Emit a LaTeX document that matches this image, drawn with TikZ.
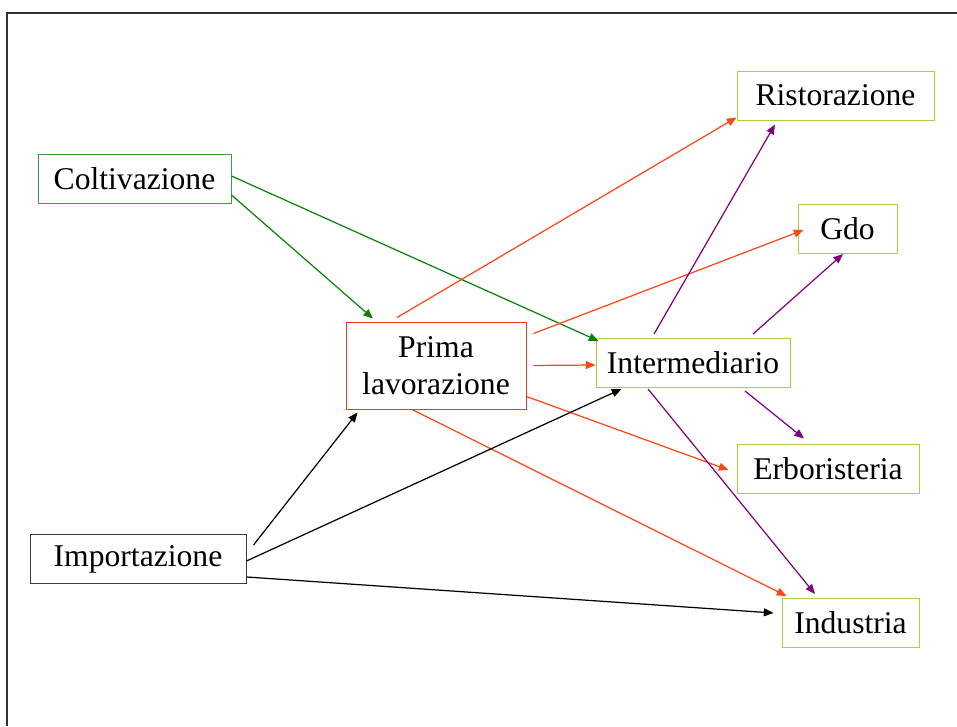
\documentclass[tikz,border=0pt]{standalone}
\usepackage{fontspec}
\setmainfont{Liberation Serif}
\usetikzlibrary{arrows.meta, calc}
\definecolor{cornice}{RGB}{50,50,50}
\definecolor{verdebox}{RGB}{60,155,60}
\definecolor{verde}{RGB}{10,130,10}
\definecolor{giallo}{RGB}{168,208,64}
\definecolor{rossobox}{RGB}{245,50,40}
\definecolor{rosso}{RGB}{255,70,20}
\definecolor{viola}{RGB}{128,0,128}
\definecolor{grigio}{RGB}{60,60,60}
\tikzset{every node/.append style = {font=\fontsize{18}{21}\selectfont}}
\tikzset{box/.style = {draw, line width=0.55pt, inner sep=0pt, minimum height=0.98cm, align=center}}
\tikzset{link/.style = {line width=0.7pt, -{Triangle[length=5.5pt,width=4.5pt]}}}

\begin{document}
\begin{tikzpicture}
    \useasboundingbox (0,0) rectangle (19.14,14.52);
    % cornice
    \draw[cornice, line width=0.8pt] (0.14,0) -- (0.14,14.26) -- (19.2,14.26);
    % nodi
    \node[box, draw=verdebox, minimum width=3.86cm] (colt) at (2.69,10.95) {Coltivazione};
    \node[box, draw=giallo, minimum width=3.94cm] (rist) at (16.71,12.61) {Ristorazione};
    \node[box, draw=giallo, minimum width=1.98cm] (gdo) at (16.95,9.94) {Gdo};
    \node[box, draw=rossobox, minimum width=3.6cm, minimum height=1.74cm] (prima) at (8.72,7.21) {Prima\\lavorazione};
    \node[box, draw=giallo, minimum width=3.88cm] (inter) at (13.86,7.26) {Intermediario};
    \node[box, draw=giallo, minimum width=3.64cm] (erb) at (16.56,5.15) {Erboristeria};
    \node[box, draw=grigio, minimum width=4.32cm] (imp) at (2.76,3.34) {Importazione};
    \node[box, draw=giallo, minimum width=2.74cm] (ind) at (17.01,2.06) {Industria};
    % coltivazione
    \draw[link, verde] ([yshift=-0.33cm]colt.east) -- ([xshift=-1.26cm,yshift=0.06cm]prima.north);
    \draw[link, verde] ([yshift=0.05cm]colt.east) -- ([xshift=0.06cm,yshift=-0.06cm]inter.north west);
    % prima lavorazione
    \draw[link, rosso] ([xshift=-0.78cm,yshift=0.08cm]prima.north) -- ([yshift=0.06cm]rist.south west);
    \draw[link, rosso] ([xshift=0.14cm,yshift=-0.24cm]prima.north east) -- ([xshift=0.12cm,yshift=-0.02cm]gdo.west);
    \draw[link, rosso] ([xshift=0.14cm]prima.east) -- ([yshift=-0.04cm]inter.west);
    \draw[link, rosso] ([yshift=0.26cm]prima.south east) -- ([xshift=-0.16cm,yshift=-0.03cm]erb.west);
    \draw[link, rosso] ([xshift=-0.48cm]prima.south) -- ([xshift=0.1cm,yshift=0.04cm]ind.north west);
    % intermediario
    \draw[link, viola] ([xshift=-0.78cm,yshift=0.08cm]inter.north) -- ([xshift=-1.21cm,yshift=-0.08cm]rist.south);
    \draw[link, viola] ([xshift=1.2cm,yshift=0.08cm]inter.north) -- ([xshift=-0.09cm]gdo.south);
    \draw[link, viola] ([xshift=1.04cm,yshift=-0.06cm]inter.south) -- ([xshift=-0.48cm,yshift=0.1cm]erb.north);
    \draw[link, viola] ([xshift=-0.9cm,yshift=-0.02cm]inter.south) -- ([xshift=-0.71cm,yshift=0.08cm]ind.north);
    % importazione
    \draw[link, black] ([xshift=0.14cm,yshift=-0.22cm]imp.north east) -- ([xshift=0.24cm,yshift=-0.06cm]prima.south west);
    \draw[link, black] ([yshift=-0.04cm]imp.east) -- ([xshift=0.52cm,yshift=-0.02cm]inter.south west);
    \draw[link, black] ([yshift=0.14cm]imp.south east) -- ([xshift=-0.16cm,yshift=0.2cm]ind.west);
\end{tikzpicture}
\end{document}
